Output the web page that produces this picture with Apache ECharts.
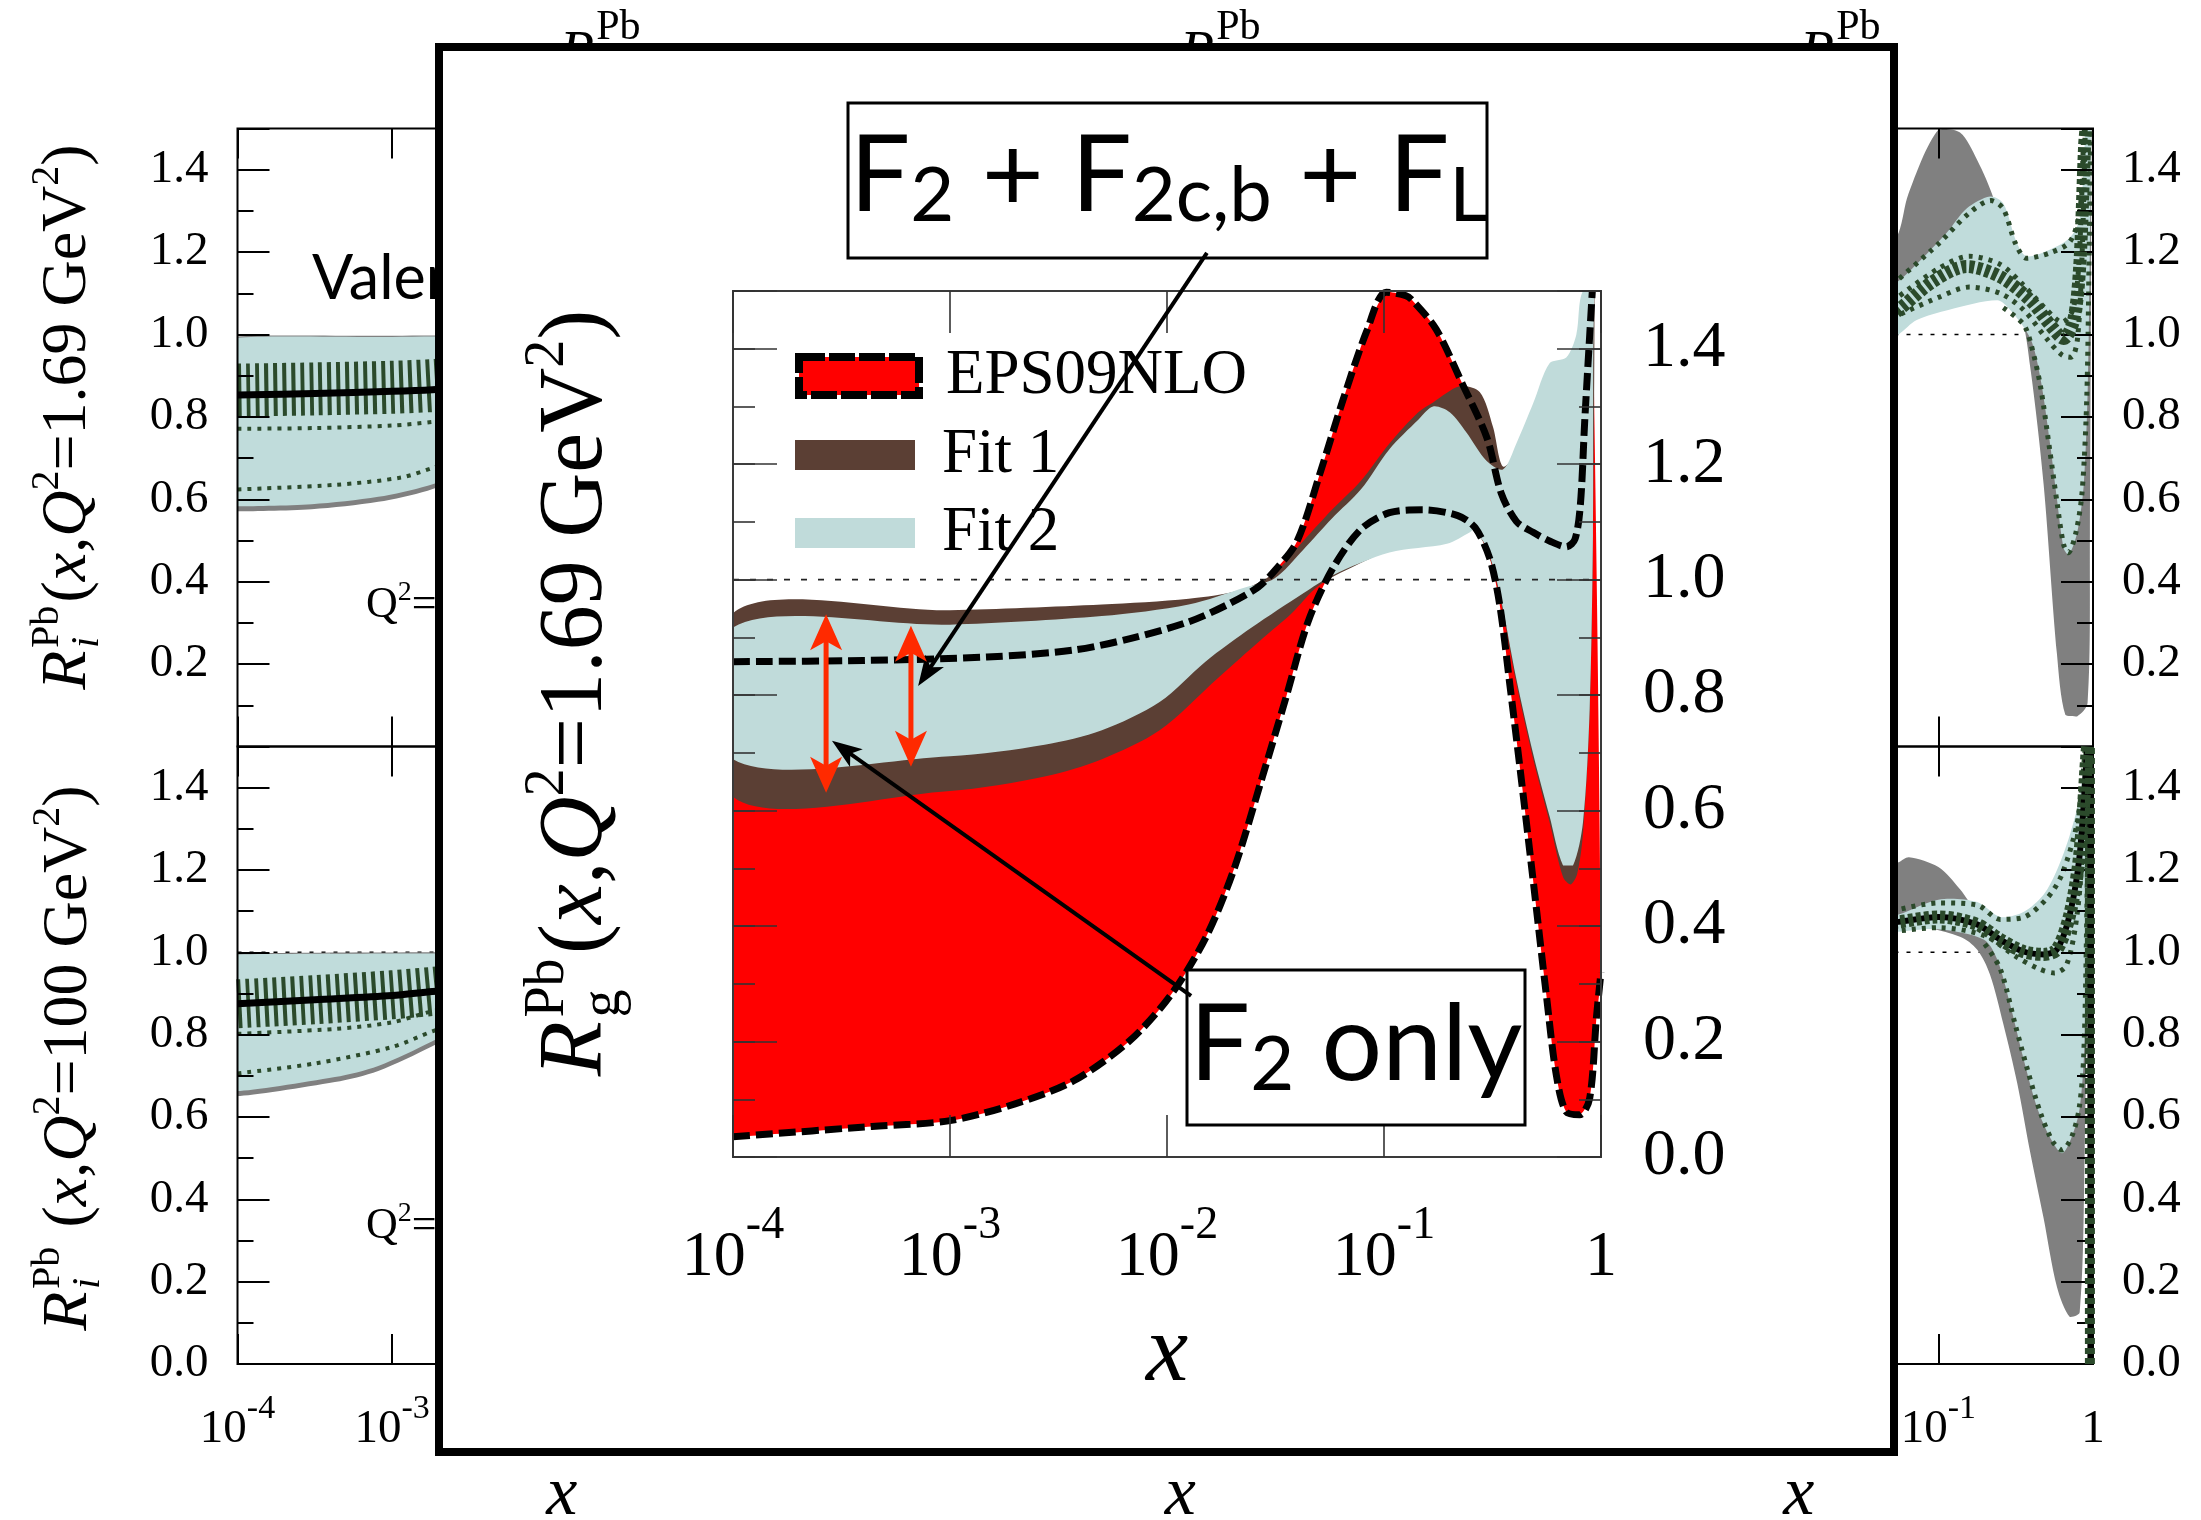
<!DOCTYPE html>
<html><head><meta charset="utf-8">
<script src="https://cdn.jsdelivr.net/npm/echarts@6/dist/echarts.min.js"></script>
<style>html,body{margin:0;padding:0;background:#fff}#c{width:2201px;height:1520px}</style>
</head><body><div id="c"></div>
<script>
// ---------------- DATA (x stored as log10(x), y = nuclear modification ratio R) ----------------
const xTickExponents = [-4, -3, -2, -1, 0];
const yTickValues = [0.0, 0.2, 0.4, 0.6, 0.8, 1.0, 1.2, 1.4];
const legendNames = ['EPS09NLO', 'Fit 1', 'Fit 2'];

// Inset: gluon R_g^Pb at Q^2 = 1.69 GeV^2
const eps09Upper = [[-4.0,0.858],[-3.4,0.860],[-2.83,0.866],[-2.43,0.878],[-2.17,0.898],[-1.9,0.927],[-1.72,0.957],[-1.58,0.987],[-1.5,1.017],[-1.4,1.067],[-1.29,1.19],[-1.19,1.31],[-1.08,1.43],[-0.99,1.498],[-0.9,1.492],[-0.87,1.484],[-0.76,1.434],[-0.64,1.34],[-0.525,1.245],[-0.46,1.15],[-0.39,1.101],[-0.313,1.082],[-0.237,1.067],[-0.16,1.057],[-0.12,1.07],[-0.095,1.13],[-0.075,1.275],[-0.052,1.424],[-0.04,1.5]];
const eps09Lower = [[-4,0.035],[-3.36,0.053],[-3.0,0.063],[-2.7,0.092],[-2.43,0.132],[-2.17,0.202],[-1.98,0.282],[-1.82,0.381],[-1.69,0.5],[-1.56,0.659],[-1.45,0.798],[-1.35,0.927],[-1.24,1.017],[-1.11,1.086],[-0.975,1.116],[-0.82,1.121],[-0.66,1.111],[-0.58,1.09],[-0.513,1.037],[-0.467,0.957],[-0.42,0.818],[-0.375,0.679],[-0.313,0.48],[-0.252,0.281],[-0.206,0.142],[-0.16,0.078],[-0.098,0.073],[-0.052,0.102],[-0.021,0.242],[0,0.32]];
const fit1Upper = [[-4,0.942],[-3,0.947],[-2.3,0.957],[-1.9,0.967],[-1.66,0.982],[-1.505,1.012],[-1.372,1.067],[-1.24,1.121],[-1.107,1.171],[-0.975,1.236],[-0.842,1.29],[-0.774,1.307],[-0.651,1.335],[-0.559,1.325],[-0.498,1.265],[-0.452,1.196],[-0.39,1.22],[-0.313,1.29],[-0.237,1.36],[-0.16,1.37],[-0.114,1.41],[-0.083,1.49]];
const fit1Lower = [[-4,0.624],[-3,0.634],[-2.564,0.659],[-2.3,0.689],[-2.034,0.739],[-1.77,0.828],[-1.56,0.898],[-1.43,0.94],[-1.3,0.99],[-1.1,1.03],[-0.975,1.05],[-0.71,1.065],[-0.604,1.085],[-0.59,1.088],[-0.528,1.055],[-0.467,0.972],[-0.39,0.82],[-0.313,0.69],[-0.237,0.58],[-0.175,0.485],[-0.14,0.472],[-0.11,0.49],[-0.083,0.56],[-0.052,0.77],[-0.037,1.07],[-0.03,1.49]];
const fit2Upper = [[-4,0.917],[-3,0.922],[-2.3,0.937],[-1.9,0.957],[-1.637,0.987],[-1.505,1.002],[-1.372,1.052],[-1.24,1.106],[-1.107,1.156],[-0.975,1.226],[-0.842,1.277],[-0.774,1.3],[-0.697,1.29],[-0.62,1.255],[-0.528,1.206],[-0.452,1.191],[-0.39,1.236],[-0.313,1.305],[-0.237,1.375],[-0.16,1.385],[-0.114,1.424],[-0.083,1.5],[0,1.5]];
const fit2Lower = [[-4,0.689],[-3,0.694],[-2.564,0.714],[-2.3,0.739],[-2.034,0.788],[-1.823,0.858],[-1.61,0.917],[-1.37,0.977],[-1.24,1.007],[-0.975,1.047],[-0.71,1.062],[-0.604,1.082],[-0.59,1.086],[-0.528,1.057],[-0.467,0.977],[-0.39,0.828],[-0.313,0.699],[-0.237,0.59],[-0.175,0.505],[-0.129,0.505],[-0.083,0.58],[-0.052,0.778],[-0.037,1.077],[-0.03,1.5]];
const unityLine = [[-4,1],[0,1]];

// Annotation anchors in data space (log10 x, R)
const arrowF2Full = [[-1.816,1.566],[-3.147,0.816]];
const arrowF2Only = [[-1.889,0.279],[-3.544,0.721]];
const spreadArrowA = [[-3.571,0.631],[-3.571,0.94]];
const spreadArrowB = [[-3.18,0.676],[-3.18,0.92]];

// Background: valence, Q^2=1.69 (upper-left)
const ulGreyUpper = [[-4,0.995],[-3,0.997],[-1.9,1.0]];
const ulGreyLower = [[-4,0.571],[-3.52,0.576],[-3.09,0.594],[-2.77,0.621],[-2.5,0.66],[-2.2,0.72],[-1.9,0.8]];
const ulTealUpper = [[-4,0.992],[-3,0.994],[-1.9,0.998]];
const ulTealLower = [[-4,0.583],[-3.52,0.588],[-3.09,0.606],[-2.77,0.633],[-2.5,0.672],[-2.2,0.732],[-1.9,0.812]];
const ulCentral = [[-4,0.853],[-3.5,0.857],[-3,0.862],[-2.74,0.866],[-2.4,0.875],[-2,0.89]];
const ulGreenCore = [[-4,0.865],[-3.5,0.868],[-3,0.872],[-2.74,0.876],[-2.4,0.885],[-2,0.9]];
const ulDotA = [[-4,0.771],[-3.5,0.773],[-3,0.779],[-2.74,0.788],[-2.4,0.805],[-2,0.83]];
const ulDotB = [[-4,0.624],[-3.37,0.635],[-2.94,0.653],[-2.74,0.676],[-2.4,0.72],[-2,0.79]];
// Background: valence, Q^2=100 (lower-left)
const llGreyUpper = [[-4,0.997],[-2,1.0]];
const llGreyLower = [[-4,0.651],[-3.37,0.685],[-3.09,0.712],[-2.74,0.772],[-2.4,0.84],[-2,0.92]];
const llTealUpper = [[-4,0.995],[-2,0.997]];
const llTealLower = [[-4,0.663],[-3.37,0.697],[-3.09,0.724],[-2.74,0.784],[-2.4,0.852],[-2,0.932]];
const llCentral = [[-4,0.875],[-3.5,0.885],[-3,0.895],[-2.74,0.905],[-2.4,0.915],[-2,0.93]];
const llGreenCore = [[-4,0.875],[-3.5,0.885],[-3,0.897],[-2.74,0.905],[-2.4,0.918],[-2,0.935]];
const llDotA = [[-4,0.802],[-3.37,0.814],[-3,0.83],[-2.74,0.857],[-2.4,0.88]];
const llDotB = [[-4,0.706],[-3.5,0.73],[-3,0.77],[-2.74,0.808],[-2.4,0.85]];
// Background: Q^2=1.69 (upper-right)
const urGreyUpper = [[-1.4,1.15],[-1.257,1.247],[-1.194,1.341],[-1.0,1.497],[-0.86,1.49],[-0.75,1.424],[-0.643,1.33],[-0.556,1.2],[-0.45,1.12],[-0.3,1.1],[-0.15,1.1],[-0.05,1.2],[-0.015,1.5]];
const urGreyLower = [[-1.4,0.99],[-1.257,1.02],[-1.0,1.07],[-0.75,1.1],[-0.588,1.083],[-0.47,1.047],[-0.405,0.918],[-0.319,0.635],[-0.233,0.224],[-0.179,0.077],[-0.103,0.073],[-0.035,0.106],[-0.02,0.52],[-0.01,1.5]];
const urTealUpper = [[-1.4,1.1],[-1.257,1.13],[-1.14,1.171],[-0.946,1.247],[-0.817,1.306],[-0.666,1.335],[-0.58,1.318],[-0.494,1.224],[-0.43,1.19],[-0.28,1.206],[-0.15,1.235],[-0.086,1.283],[-0.054,1.46],[-0.045,1.5]];
const urTealLower = [[-1.4,0.97],[-1.257,1.0],[-1.14,1.035],[-0.93,1.06],[-0.62,1.083],[-0.537,1.06],[-0.405,0.99],[-0.34,0.894],[-0.276,0.73],[-0.233,0.6],[-0.19,0.482],[-0.157,0.465],[-0.103,0.518],[-0.06,0.635],[-0.034,0.87],[-0.02,1.22],[-0.012,1.5]];
const urGreenCore = [[-1.4,1.02],[-1.257,1.06],[-1.03,1.13],[-0.817,1.165],[-0.6,1.14],[-0.405,1.083],[-0.276,1.023],[-0.19,0.99],[-0.125,1.035],[-0.086,1.165],[-0.054,1.46],[-0.045,1.5]];
const urDotUpper = [[-1.3,1.12],[-1.0,1.22],[-0.8,1.295],[-0.66,1.325],[-0.58,1.305],[-0.5,1.22],[-0.43,1.185],[-0.28,1.198],[-0.15,1.225],[-0.085,1.3],[-0.055,1.5]];
const urDotMidUp = [[-1.3,1.08],[-1.0,1.16],[-0.8,1.19],[-0.6,1.17],[-0.45,1.12],[-0.3,1.06],[-0.2,1.03],[-0.13,1.06],[-0.09,1.18],[-0.06,1.5]];
const urDotMidLow = [[-1.3,1.04],[-1.0,1.09],[-0.8,1.115],[-0.6,1.1],[-0.45,1.06],[-0.3,0.99],[-0.2,0.95],[-0.14,0.945],[-0.1,0.99],[-0.07,1.2],[-0.05,1.5]];
const urDotLower = [[-0.58,1.065],[-0.45,1.025],[-0.4,0.975],[-0.34,0.875],[-0.28,0.72],[-0.23,0.585],[-0.19,0.49],[-0.16,0.47],[-0.11,0.52],[-0.07,0.62],[-0.04,0.85],[-0.025,1.2],[-0.015,1.5]];
// Background: Q^2=100 (lower-right)
const lrGreyUpper = [[-1.4,1.2],[-1.257,1.219],[-1.19,1.231],[-1.0,1.207],[-0.86,1.153],[-0.75,1.098],[-0.6,1.06],[-0.45,1.04],[-0.3,1.05],[-0.15,1.1],[-0.05,1.3],[-0.02,1.5]];
const lrGreyLower = [[-1.4,1.07],[-1.257,1.074],[-0.86,1.038],[-0.75,1.007],[-0.667,0.947],[-0.58,0.826],[-0.49,0.682],[-0.405,0.512],[-0.32,0.355],[-0.233,0.187],[-0.15,0.114],[-0.086,0.126],[-0.054,0.51],[-0.03,1.2],[-0.02,1.5]];
const lrTealUpper = [[-1.4,1.085],[-1.257,1.092],[-1.0,1.128],[-0.75,1.122],[-0.6,1.086],[-0.45,1.098],[-0.32,1.14],[-0.233,1.2],[-0.15,1.285],[-0.086,1.38],[-0.054,1.49],[-0.05,1.5]];
const lrTealLower = [[-1.4,1.045],[-1.257,1.05],[-1.0,1.056],[-0.707,1.031],[-0.62,0.983],[-0.537,0.875],[-0.45,0.742],[-0.36,0.621],[-0.276,0.549],[-0.2,0.512],[-0.14,0.549],[-0.086,0.621],[-0.054,0.79],[-0.03,1.39],[-0.025,1.5]];
const lrCentral = [[-1.4,1.07],[-1.257,1.074],[-1.0,1.086],[-0.75,1.068],[-0.6,1.031],[-0.45,1.002],[-0.32,0.995],[-0.233,1.007],[-0.15,1.092],[-0.086,1.237],[-0.04,1.478],[-0.035,1.5]];
const lrDotUpper = [[-1.3,1.10],[-1.0,1.12],[-0.75,1.115],[-0.6,1.08],[-0.45,1.085],[-0.3,1.13],[-0.2,1.19],[-0.1,1.32],[-0.05,1.5]];
const lrDotLower = [[-0.7,1.02],[-0.6,0.96],[-0.5,0.82],[-0.42,0.71],[-0.34,0.61],[-0.26,0.54],[-0.2,0.52],[-0.14,0.55],[-0.09,0.62],[-0.06,0.75],[-0.04,1.1],[-0.03,1.5]];
const lrDotInner = [[-1.3,1.05],[-1.0,1.06],[-0.7,1.04],[-0.5,0.99],[-0.35,0.96],[-0.25,0.95],[-0.17,0.97],[-0.1,1.1],[-0.06,1.3],[-0.045,1.5]];
const lrEdge = [[-0.02,0],[-0.02,1.5]];

// ---------------- STYLE ----------------
const SERIF = 'Liberation Serif', SANS = 'Lato';
const GREY = '#808080', TEAL = '#c0dcdb', GREEN = '#2b4a2b', RED = '#ff0000', BROWN = '#5b3f34', TEAL2 = '#c0dbda', ARROWRED = '#ff2a00';
const INSET = 6, INSET_AX = 12;

const chart = echarts.init(document.getElementById('c'), null, {width: 2201, height: 1520});

const gridBoxes = [
  {left: 237.5, top: 128.5, width: 618.5, height: 618},   // 0 upper-left
  {left: 237.5, top: 746.5, width: 618.5, height: 617.5}, // 1 lower-left
  {left: 856, top: 128.5, width: 618.5, height: 618},     // 2 upper-middle
  {left: 856, top: 746.5, width: 618.5, height: 617.5},   // 3 lower-middle
  {left: 1474.5, top: 128.5, width: 618.5, height: 618},  // 4 upper-right
  {left: 1474.5, top: 746.5, width: 618.5, height: 617.5},// 5 lower-right
];
const gridCommon = {show: true, borderColor: '#000', borderWidth: 2, backgroundColor: 'transparent', z: 5, containLabel: false, outerBoundsMode: 'none'};
const grid = gridBoxes.map(g => Object.assign({}, gridCommon, g));
grid.push(Object.assign({}, gridCommon, {left: 733, top: 291, width: 868, height: 866, borderColor: '#3a3a3a', z: 20}));

function xFmt(v) { return v === 0 ? '{b|1}' : '{b|10}{s|' + v + '}'; }
const bgXRich = {
  b: {fontSize: 47, fontFamily: SERIF, color: '#000', lineHeight: 47, verticalAlign: 'bottom'},
  s: {fontSize: 34, fontFamily: SERIF, color: '#000', lineHeight: 34, verticalAlign: 'bottom', padding: [0, 0, 27, 0]}
};
const inXRich = {
  b: {fontSize: 64, fontFamily: SERIF, color: '#000', lineHeight: 64, verticalAlign: 'bottom'},
  s: {fontSize: 46, fontFamily: SERIF, color: '#000', lineHeight: 46, verticalAlign: 'bottom', padding: [0, 0, 41, 0]}
};

function xAx(g, pos, o) {
  return {
    type: 'value', gridIndex: g, position: pos, min: xTickExponents[0], max: xTickExponents[xTickExponents.length - 1], interval: 1, z: o.z,
    axisLine: {show: false, onZero: false}, splitLine: {show: false},
    axisTick: {show: true, inside: true, length: o.tick, lineStyle: {color: o.color, width: o.tw}},
    axisLabel: o.labels ? {show: true, margin: o.margin, formatter: xFmt, rich: o.rich} : {show: false},
    name: o.name || '', nameLocation: 'middle', nameGap: o.nameGap || 0,
    nameTextStyle: o.nameStyle || {}
  };
}
function yAx(g, pos, interval, o) {
  return {
    type: 'value', gridIndex: g, position: pos, min: 0, max: 1.5, interval: interval, z: o.z,
    axisLine: {show: false, onZero: false}, splitLine: {show: false},
    axisTick: {show: true, inside: true, length: o.tick, lineStyle: {color: o.color, width: o.tw}},
    axisLabel: o.labels ? {show: true, margin: o.margin, fontFamily: SERIF, fontSize: o.fs, color: '#000',
      formatter: v => (v > 1.45 || (o.hideZero && v < 0.05)) ? '' : v.toFixed(1)} : {show: false}
  };
}

const xAxis = [], yAxis = [];
for (let g = 0; g < 6; g++) {
  const lower = g % 2 === 1;
  xAxis.push(xAx(g, 'bottom', {z: 5, tick: 30, color: '#000', tw: 2, labels: lower, margin: 42, rich: bgXRich,
    name: lower ? 'x' : '', nameGap: 97,
    nameStyle: {fontSize: 70, fontStyle: 'italic', fontFamily: SERIF, color: '#000', padding: [0, 0, 0, 30]}}));
  xAxis.push(xAx(g, 'top', {z: 5, tick: 30, color: '#000', tw: 2, labels: false}));
  const side = g < 4 ? 'left' : 'right';
  yAxis.push(yAx(g, side, 0.2, {z: 5, tick: 32, color: '#000', tw: 2, labels: true, margin: 29, fs: 47, hideZero: !lower}));
  yAxis.push(yAx(g, side, 0.1, {z: 5, tick: 16, color: '#000', tw: 2, labels: false}));
}
xAxis.push(xAx(INSET, 'bottom', {z: 22, tick: 42, color: '#333', tw: 1.6, labels: true, margin: 69, rich: inXRich,
  name: 'x', nameGap: 151, nameStyle: {fontSize: 95, fontStyle: 'italic', fontFamily: SERIF, color: '#000'}}));
xAxis.push(xAx(INSET, 'top', {z: 22, tick: 42, color: '#333', tw: 1.6, labels: false}));
yAxis.push(yAx(INSET, 'left', 0.2, {z: 22, tick: 44, color: '#333', tw: 1.6, labels: false}));
yAxis.push(yAx(INSET, 'left', 0.1, {z: 22, tick: 22, color: '#333', tw: 1.6, labels: false}));
yAxis.push(yAx(INSET, 'right', 0.2, {z: 22, tick: 44, color: '#333', tw: 1.6, labels: true, margin: 42, fs: 66}));
yAxis.push(yAx(INSET, 'right', 0.1, {z: 22, tick: 22, color: '#333', tw: 1.6, labels: false}));

function axOf(g) { return g === INSET ? INSET_AX : 2 * g; }
function band(name, up, lo, color, g, z) {
  const pts = up.concat(lo.slice().reverse());
  return {
    type: 'custom', name: name, xAxisIndex: axOf(g), yAxisIndex: axOf(g), z: z, clip: true, silent: true,
    itemStyle: {color: color}, data: [up[0]],
    renderItem: function (params, api) {
      const px = pts.map(p => api.coord(p));
      const mn = [Infinity, Infinity], mx = [-Infinity, -Infinity];
      px.forEach(p => { mn[0] = Math.min(mn[0], p[0]); mn[1] = Math.min(mn[1], p[1]); mx[0] = Math.max(mx[0], p[0]); mx[1] = Math.max(mx[1], p[1]); });
      return {type: 'polygon', shape: {points: px, smooth: 0.3, smoothConstraint: [mn, mx]}, style: {fill: color}};
    }
  };
}
function curve(pts, color, width, dash, g, z, smooth) {
  return {
    type: 'line', data: pts, xAxisIndex: axOf(g), yAxisIndex: axOf(g), z: z, symbol: 'none', showSymbol: false,
    smooth: smooth === undefined ? 0.3 : smooth, clip: true, silent: true,
    lineStyle: {color: color, width: width, type: dash || 'solid', cap: 'butt', join: 'round'}
  };
}
const DOT = [4, 6], UNIT = [4, 8];
const series = [
  // upper-left
  band('', ulGreyUpper, ulGreyLower, GREY, 0, 2),
  band('', ulTealUpper, ulTealLower, TEAL, 0, 3),
  curve(ulDotA, GREEN, 4, DOT, 0, 4), curve(ulDotB, GREEN, 4, DOT, 0, 4),
  curve(ulGreenCore, GREEN, 53, [4, 5], 0, 4), curve(ulCentral, '#000', 7, 'solid', 0, 5),
  // lower-left
  curve(unityLine, '#000', 1.5, UNIT, 1, 1, false),
  band('', llGreyUpper, llGreyLower, GREY, 1, 2),
  band('', llTealUpper, llTealLower, TEAL, 1, 3),
  curve(llDotA, GREEN, 4, DOT, 1, 4), curve(llDotB, GREEN, 4, DOT, 1, 4),
  curve(llGreenCore, GREEN, 49, [4, 5], 1, 4), curve(llCentral, '#000', 7, 'solid', 1, 5),
  // upper-right
  curve(unityLine, '#000', 1.5, UNIT, 4, 1, false),
  band('', urGreyUpper, urGreyLower, GREY, 4, 2),
  band('', urTealUpper, urTealLower, TEAL, 4, 3),
  curve(urDotUpper, GREEN, 5, DOT, 4, 4), curve(urDotMidUp, GREEN, 5, DOT, 4, 4),
  curve(urDotMidLow, GREEN, 5, DOT, 4, 4), curve(urDotLower, GREEN, 5, DOT, 4, 4),
  curve(urGreenCore, GREEN, 13, [5, 3], 4, 5),
  // lower-right
  curve(unityLine, '#000', 1.5, UNIT, 5, 1, false),
  band('', lrGreyUpper, lrGreyLower, GREY, 5, 2),
  band('', lrTealUpper, lrTealLower, TEAL, 5, 3),
  curve(lrDotUpper, GREEN, 5, DOT, 5, 4), curve(lrDotLower, GREEN, 5, DOT, 5, 4), curve(lrDotInner, GREEN, 5, DOT, 5, 4),
  curve(lrCentral, '#000', 6, 'solid', 5, 4), curve(lrCentral, GREEN, 13, [5, 3], 5, 5),
  curve(lrEdge, '#000', 5, 'solid', 5, 4, false), curve(lrEdge, GREEN, 10, [6, 4], 5, 5, false),
  // inset
  band(legendNames[0], eps09Upper, eps09Lower, RED, INSET, 11),
  band(legendNames[1], fit1Upper, fit1Lower, BROWN, INSET, 12),
  band(legendNames[2], fit2Upper, fit2Lower, TEAL2, INSET, 13),
  curve(unityLine, '#222', 1.6, [6, 11], INSET, 14, false),
  curve(eps09Upper, '#000', 7, [17, 6], INSET, 16),
  curve(eps09Lower, '#000', 7, [17, 6], INSET, 16)
];

const legTxt = {fontFamily: SERIF, fontSize: 63, color: '#000', lineHeight: 70, padding: [0, 0, 0, 22]};
const legendBase = {orient: 'vertical', left: 795, itemWidth: 120, selectedMode: false, padding: 0, z: 30, textStyle: legTxt};
const legend = [
  Object.assign({}, legendBase, {top: 341, itemHeight: 38, data: [{name: legendNames[0], icon: 'rect',
    itemStyle: {color: RED, borderColor: '#000', borderWidth: 8, borderType: [26, 4]}}]}),
  Object.assign({}, legendBase, {top: 420, itemHeight: 30, data: [{name: legendNames[1], icon: 'rect', itemStyle: {color: BROWN, borderWidth: 0}}]}),
  Object.assign({}, legendBase, {top: 498, itemHeight: 30, data: [{name: legendNames[2], icon: 'rect', itemStyle: {color: TEAL2, borderWidth: 0}}]})
];

chart.setOption({
  animation: false, backgroundColor: '#fff',
  textStyle: {fontFamily: SERIF},
  grid: grid, xAxis: xAxis, yAxis: yAxis, legend: legend, series: series
});

// ---------------- TEXT / ANNOTATION GRAPHICS ----------------
const mctx = document.createElement('canvas').getContext('2d');
function tw(t, s, it, fam) { mctx.font = (it ? 'italic ' : '') + s + 'px "' + fam + '"'; return mctx.measureText(t).width; }
function formula(segs, o) {
  let x = 0, prevStart = 0, prevAdv = 0;
  const placed = [];
  segs.forEach(sg => {
    const w = tw(sg.t, sg.s, sg.it, o.fam);
    let start;
    if (sg.stack) { start = prevStart; prevAdv = Math.max(prevAdv, w); x = start + prevAdv; }
    else { start = x + (sg.gap || 0); prevStart = start; prevAdv = w; x = start + w; }
    placed.push([sg, start]);
  });
  const W = x, x0 = o.align === 'left' ? 0 : -W / 2, F = o.base;
  return {
    type: 'group', x: o.x, y: o.y, rotation: o.rot || 0,
    children: placed.map(([sg, start]) => ({
      type: 'text', z: o.z, x: x0 + start, y: 0.34 * F - (sg.rise || 0) - 0.34 * sg.s,
      style: {text: sg.t, fontSize: sg.s, fontFamily: o.fam, fontStyle: sg.it ? 'italic' : 'normal', fill: '#000', align: 'left', verticalAlign: 'middle'}
    }))
  };
}
function yTitle(sub, rest, F, cx, cy, z) {
  const s = Math.round(F * 0.62), r = F * 0.45;
  return formula([
    {t: 'R', s: F, it: true}, {t: 'Pb', s: s, rise: r, gap: F * 0.04}, {t: sub, s: s, it: sub === 'i', rise: -F * 0.17, stack: true},
    {t: rest[0], s: F, gap: F * 0.05}, {t: 'x', s: F, it: true}, {t: ',', s: F}, {t: 'Q', s: F, it: true},
    {t: '2', s: s, rise: r}, {t: rest[1], s: F}, {t: '2', s: s, rise: r}, {t: ')', s: F}
  ], {fam: SERIF, base: F, x: cx, y: cy, rot: Math.PI / 2, z: z});
}
function arrow(p0, p1, color, width, hl, hh, both, z) {
  const dx = p1[0] - p0[0], dy = p1[1] - p0[1], L = Math.hypot(dx, dy), ux = dx / L, uy = dy / L, nx = -uy, ny = ux;
  const head = (tip, d) => ({type: 'polygon', z: z, shape: {points: [tip,
    [tip[0] - d[0] * hl + nx * hh, tip[1] - d[1] * hl + ny * hh], [tip[0] - d[0] * hl * 0.75, tip[1] - d[1] * hl * 0.75],
    [tip[0] - d[0] * hl - nx * hh, tip[1] - d[1] * hl - ny * hh]]}, style: {fill: color}});
  const s = both ? [p0[0] + ux * hl * 0.7, p0[1] + uy * hl * 0.7] : p0, e = [p1[0] - ux * hl * 0.7, p1[1] - uy * hl * 0.7];
  const els = [{type: 'line', z: z, shape: {x1: s[0], y1: s[1], x2: e[0], y2: e[1]}, style: {stroke: color, lineWidth: width}}, head(p1, [ux, uy])];
  if (both) els.push(head(p0, [-ux, -uy]));
  return els;
}
const toPx = p => chart.convertToPixel({xAxisIndex: INSET_AX, yAxisIndex: INSET_AX}, p);

const annRich = {
  m: {fontSize: 107, fontFamily: SANS, fill: '#000', color: '#000', lineHeight: 107, verticalAlign: 'bottom', padding: [0, 0, 5, 0]},
  s: {fontSize: 76, fontFamily: SANS, fill: '#000', color: '#000', lineHeight: 76, verticalAlign: 'bottom'}
};
const elements = [
  // panel titles (mostly hidden behind the inset)
  formula([{t: 'R', s: 56, it: true}, {t: 'Pb', s: 42, rise: 32, gap: 2}], {fam: SERIF, base: 56, x: 560, y: 55, align: 'left', z: 1}),
  formula([{t: 'R', s: 56, it: true}, {t: 'Pb', s: 42, rise: 32, gap: 2}], {fam: SERIF, base: 56, x: 1180, y: 55, align: 'left', z: 1}),
  formula([{t: 'R', s: 56, it: true}, {t: 'Pb', s: 42, rise: 32, gap: 2}], {fam: SERIF, base: 56, x: 1800, y: 55, align: 'left', z: 1}),
  {type: 'text', z: 5, x: 312, y: 279, style: {text: 'Valence', fontFamily: SANS, fontSize: 61, fill: '#000', align: 'left', verticalAlign: 'middle'}},
  formula([{t: 'Q', s: 44}, {t: '2', s: 28, rise: 18}, {t: '=1.69 GeV', s: 44}, {t: '2', s: 28, rise: 18}], {fam: SERIF, base: 44, x: 366, y: 605, align: 'left', z: 5}),
  formula([{t: 'Q', s: 44}, {t: '2', s: 28, rise: 18}, {t: '=100 GeV', s: 44}, {t: '2', s: 28, rise: 18}], {fam: SERIF, base: 44, x: 366, y: 1226, align: 'left', z: 5}),
  yTitle('i', ['(', '=1.69 GeV'], 64, 68, 417, 5),
  yTitle('i', [' (', '=100 GeV'], 64, 69, 1058, 5),
  // inset frame
  {type: 'rect', z: 6, shape: {x: 439, y: 47, width: 1455, height: 1405}, style: {fill: '#fff', stroke: '#000', lineWidth: 8}},
  yTitle('g', ['(', '=1.69 GeV'], 90, 577, 693, 25),
  // annotation boxes
  {type: 'rect', z: 30, shape: {x: 848, y: 103, width: 639, height: 155}, style: {fill: '#fff', stroke: '#000', lineWidth: 3}},
  {type: 'text', z: 31, x: 1169, y: 181, style: {text: '{m|F}{s|2}{m| + F}{s|2c,b}{m| + F}{s|L}', align: 'center', verticalAlign: 'middle', fill: '#000', rich: annRich}},
  {type: 'rect', z: 30, shape: {x: 1187, y: 970, width: 338, height: 155}, style: {fill: '#fff', stroke: '#000', lineWidth: 3}},
  {type: 'text', z: 31, x: 1356, y: 1050, style: {text: '{m|F}{s|2}{m| only}', align: 'center', verticalAlign: 'middle', fill: '#000', rich: annRich}}
].concat(
  arrow(toPx(arrowF2Full[0]), toPx(arrowF2Full[1]), '#000', 4, 30, 11, false, 32),
  arrow(toPx(arrowF2Only[0]), toPx(arrowF2Only[1]), '#000', 4, 30, 11, false, 32),
  arrow(toPx(spreadArrowA[0]), toPx(spreadArrowA[1]), ARROWRED, 5, 36, 16, true, 32),
  arrow(toPx(spreadArrowB[0]), toPx(spreadArrowB[1]), ARROWRED, 5, 36, 16, true, 32)
);
chart.setOption({graphic: {elements: elements}});
</script></body></html>
